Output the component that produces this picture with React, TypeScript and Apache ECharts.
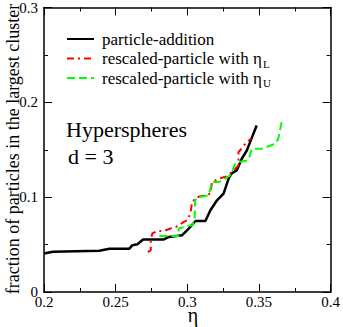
import React, { useEffect, useRef } from "react";
import * as echarts from "echarts";

const FONT = "Liberation Serif";

const seriesNames = [
  "particle-addition",
  "rescaled-particle with ηL",
  "rescaled-particle with ηU",
];

const particleAddition: [number, number][] = [
  [0.2, 0.0407], [0.2062, 0.0424], [0.2386, 0.0434], [0.2456, 0.0455],
  [0.2594, 0.0455], [0.2617, 0.0494], [0.2652, 0.0504], [0.2691, 0.0554],
  [0.2837, 0.0554], [0.2871, 0.0581], [0.2964, 0.0599], [0.301, 0.0669],
  [0.3057, 0.0749], [0.3126, 0.0749], [0.3161, 0.0862], [0.3207, 0.0967],
  [0.3253, 0.1037], [0.3288, 0.1195], [0.3311, 0.1254], [0.3345, 0.1282],
  [0.338, 0.1405], [0.3415, 0.1492], [0.3438, 0.158], [0.3484, 0.1755],
];

const rescaledL: [number, number][] = [
  [0.2725, 0.042], [0.2745, 0.044], [0.2745, 0.055], [0.2756, 0.0617],
  [0.279, 0.0644], [0.2837, 0.0644], [0.2883, 0.0669], [0.293, 0.0693],
  [0.2976, 0.0739], [0.2999, 0.0757], [0.3022, 0.0827], [0.3033, 0.0949],
  [0.3068, 0.1001], [0.3126, 0.1019], [0.3161, 0.1037], [0.3172, 0.1159],
  [0.3218, 0.1195], [0.3276, 0.1219], [0.3311, 0.1264], [0.3357, 0.1334],
  [0.3357, 0.1474], [0.3404, 0.1562], [0.3445, 0.162],
];

const rescaledU: [number, number][] = [
  [0.2805, 0.059], [0.294, 0.059], [0.294, 0.067], [0.3033, 0.0704],
  [0.305, 0.075], [0.3055, 0.0967], [0.308, 0.1001], [0.3149, 0.1019],
  [0.3172, 0.1159], [0.3218, 0.1159], [0.3265, 0.1195], [0.33, 0.1229],
  [0.3334, 0.1352], [0.3357, 0.1369], [0.3415, 0.1387], [0.3427, 0.1395],
  [0.345, 0.151], [0.3519, 0.151], [0.3612, 0.1562], [0.3634, 0.1615],
  [0.3658, 0.179],
];

const xRange = [0.2, 0.4];
const yRange = [0, 0.3];
const xInterval = 0.05;
const yInterval = 0.1;

const annotation = ["Hyperspheres", "d = 3"];
const yTitle = "fraction of particles in the largest cluster";
const xTitle = "η";

export default function App() {
  const ref = useRef<HTMLDivElement>(null);
  useEffect(() => {
    if (!ref.current) return;
    const chart = echarts.init(ref.current, undefined, { renderer: "svg" });
    const axisLine = { show: true, onZero: false, lineStyle: { color: "#000", width: 1.5 } };
    const tick = { show: true, inside: true, length: 8, lineStyle: { color: "#000", width: 1 } };
    const minor = { show: true, splitNumber: 2, length: 4, lineStyle: { color: "#000", width: 1 } };
    const label = { fontFamily: FONT, fontSize: 15, color: "#000", lineHeight: 12 };
    const xBase = { type: "value", min: xRange[0], max: xRange[1], interval: xInterval, axisLine, axisTick: tick, minorTick: minor, splitLine: { show: false } };
    const yBase = { type: "value", min: yRange[0], max: yRange[1], interval: yInterval, axisLine, axisTick: tick, minorTick: minor, splitLine: { show: false } };
    const legendFormatter = (name: string) => {
      if (name === seriesNames[0]) return `{m|${name}}`;
      const sub = name.slice(-1);
      return `{m|${name.slice(0, -1)}}{s|${sub}}`;
    };
    const legendText = {
      fontFamily: FONT, fontSize: 17, color: "#000",
      rich: {
        m: { fontFamily: FONT, fontSize: 17, color: "#000", padding: [0, 0, 0, 3] },
        s: { fontFamily: FONT, fontSize: 11, color: "#000", padding: [10, 0, 0, 1] },
      },
    };
    const mkLegend = (name: string, top: number) => ({
      data: [name], left: 66, top, padding: 0, itemWidth: 27, itemHeight: 14,
      itemStyle: { opacity: 0 },
      formatter: legendFormatter, textStyle: legendText, selectedMode: false,
    });
    chart.setOption({
      animation: false,
      backgroundColor: "#fff",
      grid: { left: 44, right: 10, top: 6, bottom: 35, containLabel: false },
      xAxis: [
        { ...xBase, position: "bottom", axisLabel: { ...label, margin: 4 } },
        { ...xBase, position: "top", axisLabel: { show: false } },
      ],
      yAxis: [
        { ...yBase, position: "left", axisLabel: { ...label, margin: 6 } },
        { ...yBase, position: "right", axisLabel: { show: false } },
      ],
      legend: [
        mkLegend(seriesNames[0], 30.5),
        mkLegend(seriesNames[1], 50),
        mkLegend(seriesNames[2], 69.5),
      ],
      graphic: [
        { type: "text", x: 66, y: 129, style: { text: annotation[0], fontFamily: FONT, fontSize: 22, fill: "#000", align: "left", verticalAlign: "middle" } },
        { type: "text", x: 68, y: 156, style: { text: annotation[1], fontFamily: FONT, fontSize: 22, fill: "#000", align: "left", verticalAlign: "middle" } },
        { type: "text", x: 13, y: 149, rotation: Math.PI / 2, style: { text: yTitle, fontFamily: FONT, fontSize: 18, fill: "#000", align: "center", verticalAlign: "middle" } },
        { type: "text", x: 193, y: 315, style: { text: xTitle, fontFamily: FONT, fontSize: 20, lineHeight: 12, fill: "#000", align: "center", verticalAlign: "middle" } },
      ],
      series: [
        { name: seriesNames[0], type: "line", data: particleAddition, symbol: "none", showSymbol: false, lineStyle: { color: "#000", width: 2.5 }, itemStyle: { color: "#000" } },
        { name: seriesNames[1], type: "line", data: rescaledL, symbol: "none", showSymbol: false, lineStyle: { color: "#ff0000", width: 2, type: [7, 4, 2, 4] }, itemStyle: { color: "#ff0000" } },
        { name: seriesNames[2], type: "line", data: rescaledU, symbol: "none", showSymbol: false, lineStyle: { color: "#00ff00", width: 2, type: [8, 4] }, itemStyle: { color: "#00ff00" } },
      ],
    });
    return () => chart.dispose();
  }, []);
  return <div ref={ref} style={{ position: "fixed", left: 0, top: 0, width: 343, height: 327 }} />;
}
